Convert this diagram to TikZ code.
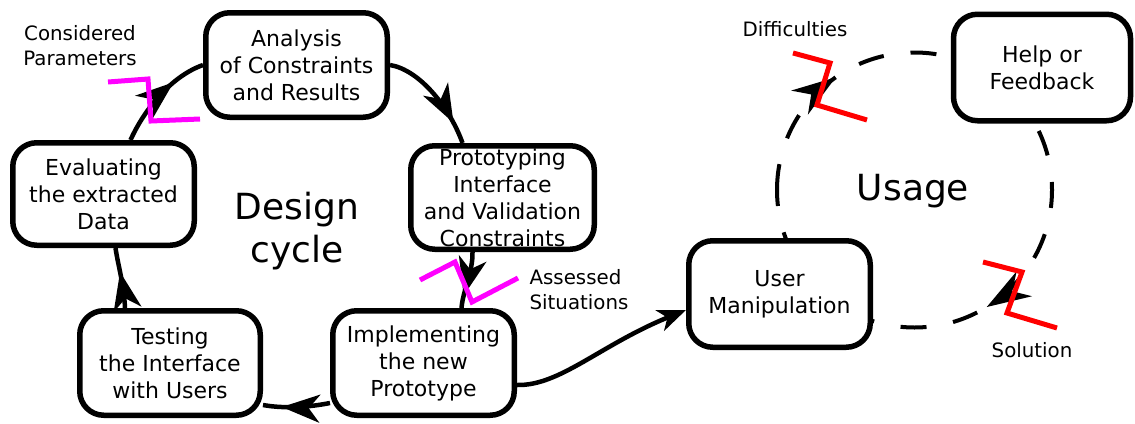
\documentclass[tikz,border=0pt]{standalone}
\usepackage{fontspec}
\setmainfont{DejaVu Sans}
\usetikzlibrary{arrows.meta,decorations.markings}

\definecolor{cutpink}{RGB}{255,0,255}
\definecolor{cutred}{RGB}{255,0,0}

\tikzset{
  box/.style={draw, fill=white, line width=5.5pt, rounded corners=24pt,
    align=center, inner sep=0pt, font=\fontsize{22}{27}\selectfont},
  link/.style={line width=4.5pt},
  midarrow/.style={postaction={solid,decorate,decoration={markings,
    mark=at position #1 with {\arrow{Stealth[length=38pt,width=28pt,inset=11pt]}}}}},
  loopline/.style={line width=4pt, dash pattern=on 26pt off 27pt},
  looparrow/.style={postaction={solid,decorate,decoration={markings,
    mark=at position #1 with {\arrow{Stealth[length=44pt,width=29pt,inset=14pt]}}}}},
  cut/.style={line width=5pt, miter limit=10},
  label/.style={align=left, inner sep=0pt, font=\fontsize{19.8}{25}\selectfont},
  title/.style={align=center, inner sep=0pt, font=\fontsize{36}{43}\selectfont}
}

\begin{document}
\begin{tikzpicture}[x=1pt,y=-1pt]
\useasboundingbox (0,0) rectangle (1135,423);

% usage loop (drawn first, boxes cover it)
\coordinate (uc) at (914.5,190);
\draw[loopline, looparrow=0.153, looparrow=0.662]
  (uc) ++(180:137.5) arc[start angle=180, end angle=540, radius=137.5];

% design cycle boxes
\node[box, minimum width=181.5pt, minimum height=104.5pt] (A) at (296.5,65)
  {Analysis\\of Constraints\\and Results};
\node[box, minimum width=183.5pt, minimum height=103.5pt] (P) at (502.5,197.5)
  {Prototyping\\Interface\\and Validation\\Constraints};
\node[box, minimum width=181.5pt, minimum height=102.5pt] (E) at (103.5,194)
  {Evaluating\\the extracted\\Data};
\node[box, minimum width=180.5pt, minimum height=104.5pt] (T) at (170,363)
  {Testing\\the Interface\\with Users};
\node[box, minimum width=181.5pt, minimum height=104.5pt] (I) at (423.5,363)
  {Implementing\\the new\\Prototype};
% usage boxes
\node[box, minimum width=181.5pt, minimum height=106.5pt] (U) at (779.5,294)
  {User\\Manipulation};
\node[box, minimum width=177pt, minimum height=106.5pt] (H) at (1042,67.5)
  {Help or\\Feedback};

% design cycle connectors
\draw[link, midarrow=0.8] (A.east) .. controls (420,70) and (450,108) .. ([xshift=-40pt]P.north);
\draw[link, midarrow=0.78] ([xshift=-30pt]P.south) .. controls (473,272) and (463,290) .. ([xshift=38pt]I.north);
\draw[link, midarrow=0.72] ([yshift=-40pt]I.west) .. controls (310,407) and (285,409) .. ([yshift=-42pt]T.east);
\draw[link, midarrow=0.6] ([xshift=-45pt]T.north) .. controls (124,285) and (118,265) .. ([xshift=12pt]E.south);
\draw[link, midarrow=0.68] ([xshift=27pt]E.north) .. controls (145,108) and (172,76) .. (A.west);

% hand-over to usage
\draw[link, -{Stealth[length=28pt,width=22pt,inset=8pt]}]
  ([yshift=-22pt]I.east) .. controls (560,386) and (600,345) .. ([yshift=-16pt]U.west);

% cut marks
\draw[cut, cutpink] (108,82) -- (148,79) -- (151,121) -- (200,119);
\draw[cut, cutpink] (420,280) -- (455,262) -- (472,302) -- (518,278);
\draw[cut, cutred] (793,53) -- (830,63) -- (817,105) -- (867,120);
\draw[cut, cutred] (983,262) -- (1022,272) -- (1007,313) -- (1057,328);

% labels
\node[label, align=center] (cp) at (80,46) {Considered\\Parameters};
\node[label] (as) at (579,290) {Assessed\\Situations};
\node[label] (df) at (795,29) {Difficulties};
\node[label] (so) at (1032,350) {Solution};
\node[title] (dc) at (297,231) {Design\\cycle};
\node[title] (us) at (913,191) {Usage};
\end{tikzpicture}
\end{document}
